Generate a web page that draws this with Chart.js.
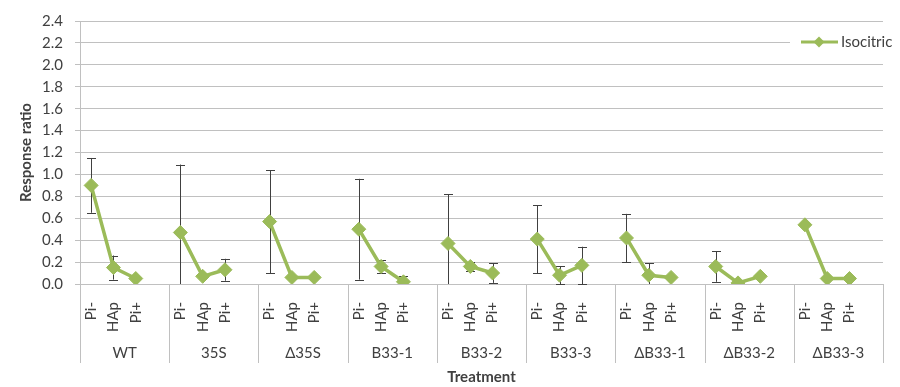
<!DOCTYPE html>
<html>
<head>
<meta charset="utf-8">
<script src="https://cdn.jsdelivr.net/npm/chart.js@4.4.0/dist/chart.umd.min.js"></script>
<style>
body { margin: 0; background: #fff; }
#wrap { width: 900px; height: 387px; }
</style>
</head>
<body>
<div id="wrap"><canvas id="myChart" width="900" height="387"></canvas></div>
<script>
var groups = ['WT', '35S', '\u039435S', 'B33-1', 'B33-2', 'B33-3', '\u0394B33-1', '\u0394B33-2', '\u0394B33-3'];
var conditions = ['Pi-', 'HAp', 'Pi+'];
// response ratio, 3 values per group (Pi-, HAp, Pi+)
var isocitric = [0.90, 0.15, 0.05,
                 0.47, 0.07, 0.13,
                 0.57, 0.06, 0.06,
                 0.50, 0.16, 0.02,
                 0.37, 0.16, 0.10,
                 0.41, 0.08, 0.17,
                 0.42, 0.08, 0.06,
                 0.16, 0.01, 0.07,
                 0.54, 0.05, 0.05];
// +/- error, null = no bar
var errors = [0.25, 0.11, null,
              0.62, null, 0.10,
              0.47, null, null,
              0.46, 0.06, 0.05,
              0.45, 0.04, 0.09,
              0.31, 0.08, 0.17,
              0.22, 0.11, null,
              0.14, null, null,
              null, null, null];
var yTicks = [0, 0.2, 0.4, 0.6, 0.8, 1.0, 1.2, 1.4, 1.6, 1.8, 2.0, 2.2, 2.4];

var GREEN = '#9BBB59';
var TEXT = '#404040';
var GRID = '#C0C0C0';
var FONT = 'Lato, "Liberation Sans", sans-serif';
var FS = 15;

// one blank slot after every group so the line breaks
var labels = [], values = [], errs = [];
groups.forEach(function(g, gi) {
    conditions.forEach(function(c, ci) {
        labels.push(c);
        values.push(isocitric[gi * 3 + ci]);
        errs.push(errors[gi * 3 + ci]);
    });
    labels.push('');
    values.push(null);
    errs.push(null);
});

var extras = {
    id: 'extras',
    beforeDatasetsDraw: function(chart) {
        var ctx = chart.ctx;
        var xs = chart.scales.x, ys = chart.scales.y;
        ctx.save();
        ctx.strokeStyle = '#404040';
        ctx.lineWidth = 1;
        for (var i = 0; i < values.length; i++) {
            if (values[i] == null || errs[i] == null) continue;
            var x = Math.round(xs.getPixelForValue(i)) + 0.5;
            var hiV = values[i] + errs[i];
            var loV = values[i] - errs[i];
            var yTop = ys.getPixelForValue(hiV);
            var yBot = ys.getPixelForValue(Math.max(loV, 0));
            ctx.beginPath();
            ctx.moveTo(x, yTop);
            ctx.lineTo(x, yBot);
            ctx.moveTo(x - 4.5, Math.round(yTop) + 0.5);
            ctx.lineTo(x + 4.5, Math.round(yTop) + 0.5);
            if (loV >= 0) {
                ctx.moveTo(x - 4.5, Math.round(yBot) + 0.5);
                ctx.lineTo(x + 4.5, Math.round(yBot) + 0.5);
            }
            ctx.stroke();
        }
        ctx.restore();
    },
    afterDraw: function(chart) {
        var ctx = chart.ctx;
        var xs = chart.scales.x;
        var area = chart.chartArea;
        var catW = xs.width / labels.length;
        ctx.save();
        // group separators
        ctx.strokeStyle = GRID;
        ctx.lineWidth = 1;
        ctx.beginPath();
        for (var k = 0; k <= groups.length; k++) {
            var sx = Math.round(xs.left + k * 4 * catW) + 0.5;
            ctx.moveTo(sx, area.bottom);
            ctx.lineTo(sx, area.bottom + 79);
        }
        ctx.stroke();
        // group names
        ctx.fillStyle = TEXT;
        ctx.font = FS + 'px ' + FONT;
        ctx.textAlign = 'center';
        ctx.textBaseline = 'middle';
        groups.forEach(function(g, gi) {
            ctx.fillText(g, xs.left + (gi * 4 + 2) * catW, area.bottom + 69);
        });
        // axis title
        ctx.font = 'bold ' + FS + 'px ' + FONT;
        ctx.fillText('Treatment', (area.left + area.right) / 2, area.bottom + 93);
        // legend
        ctx.fillStyle = '#fff';
        ctx.fillRect(790, 35, 110, 14);
        ctx.strokeStyle = GREEN;
        ctx.lineWidth = 3;
        ctx.beginPath();
        ctx.moveTo(801, 42);
        ctx.lineTo(838, 42);
        ctx.stroke();
        ctx.fillStyle = GREEN;
        ctx.beginPath();
        ctx.moveTo(819, 36.5);
        ctx.lineTo(824.5, 42);
        ctx.lineTo(819, 47.5);
        ctx.lineTo(813.5, 42);
        ctx.closePath();
        ctx.fill();
        ctx.fillStyle = TEXT;
        ctx.font = FS + 'px ' + FONT;
        ctx.textAlign = 'left';
        ctx.fillText('Isocitric', 841, 42);
        ctx.restore();
    }
};

window.onload = function() {
    var ctx = document.getElementById('myChart').getContext('2d');
    var chart = new Chart(ctx, {
        type: 'line',
        data: {
            labels: labels,
            datasets: [{
                label: 'Isocitric',
                data: values,
                borderColor: GREEN,
                backgroundColor: GREEN,
                borderWidth: 3.5,
                pointStyle: 'rectRot',
                pointRadius: 7,
                pointBackgroundColor: GREEN,
                pointBorderColor: GREEN,
                pointBorderWidth: 1,
                spanGaps: false,
                tension: 0
            }]
        },
        options: {
            responsive: false,
            animation: false,
            layout: { padding: { left: 0, right: 12, top: 21, bottom: 0 } },
            plugins: {
                legend: { display: false },
                tooltip: { enabled: false }
            },
            scales: {
                x: {
                    type: 'category',
                    offset: true,
                    afterFit: function(s) { s.height = 103; },
                    grid: { display: false },
                    border: { display: true, color: GRID, width: 1 },
                    ticks: {
                        autoSkip: false,
                        minRotation: 90,
                        maxRotation: 90,
                        padding: 10,
                        color: TEXT,
                        font: { family: FONT, size: FS }
                    }
                },
                y: {
                    min: 0,
                    max: 2.4,
                    afterFit: function(s) { s.width = 80; },
                    afterBuildTicks: function(s) {
                        s.ticks = yTicks.map(function(v) { return { value: v }; });
                    },
                    grid: { color: GRID, lineWidth: 1, drawTicks: true, tickLength: 5 },
                    border: { display: true, color: GRID, width: 1 },
                    ticks: {
                        padding: 12,
                        color: TEXT,
                        font: { family: FONT, size: FS },
                        callback: function(v) { return Number(v).toFixed(1); }
                    },
                    title: {
                        display: true,
                        text: 'Response ratio',
                        color: TEXT,
                        font: { family: FONT, size: FS, weight: 'bold' },
                        padding: { top: 17, bottom: 0 }
                    }
                }
            }
        },
        plugins: [extras]
    });
};
</script>
</body>
</html>
